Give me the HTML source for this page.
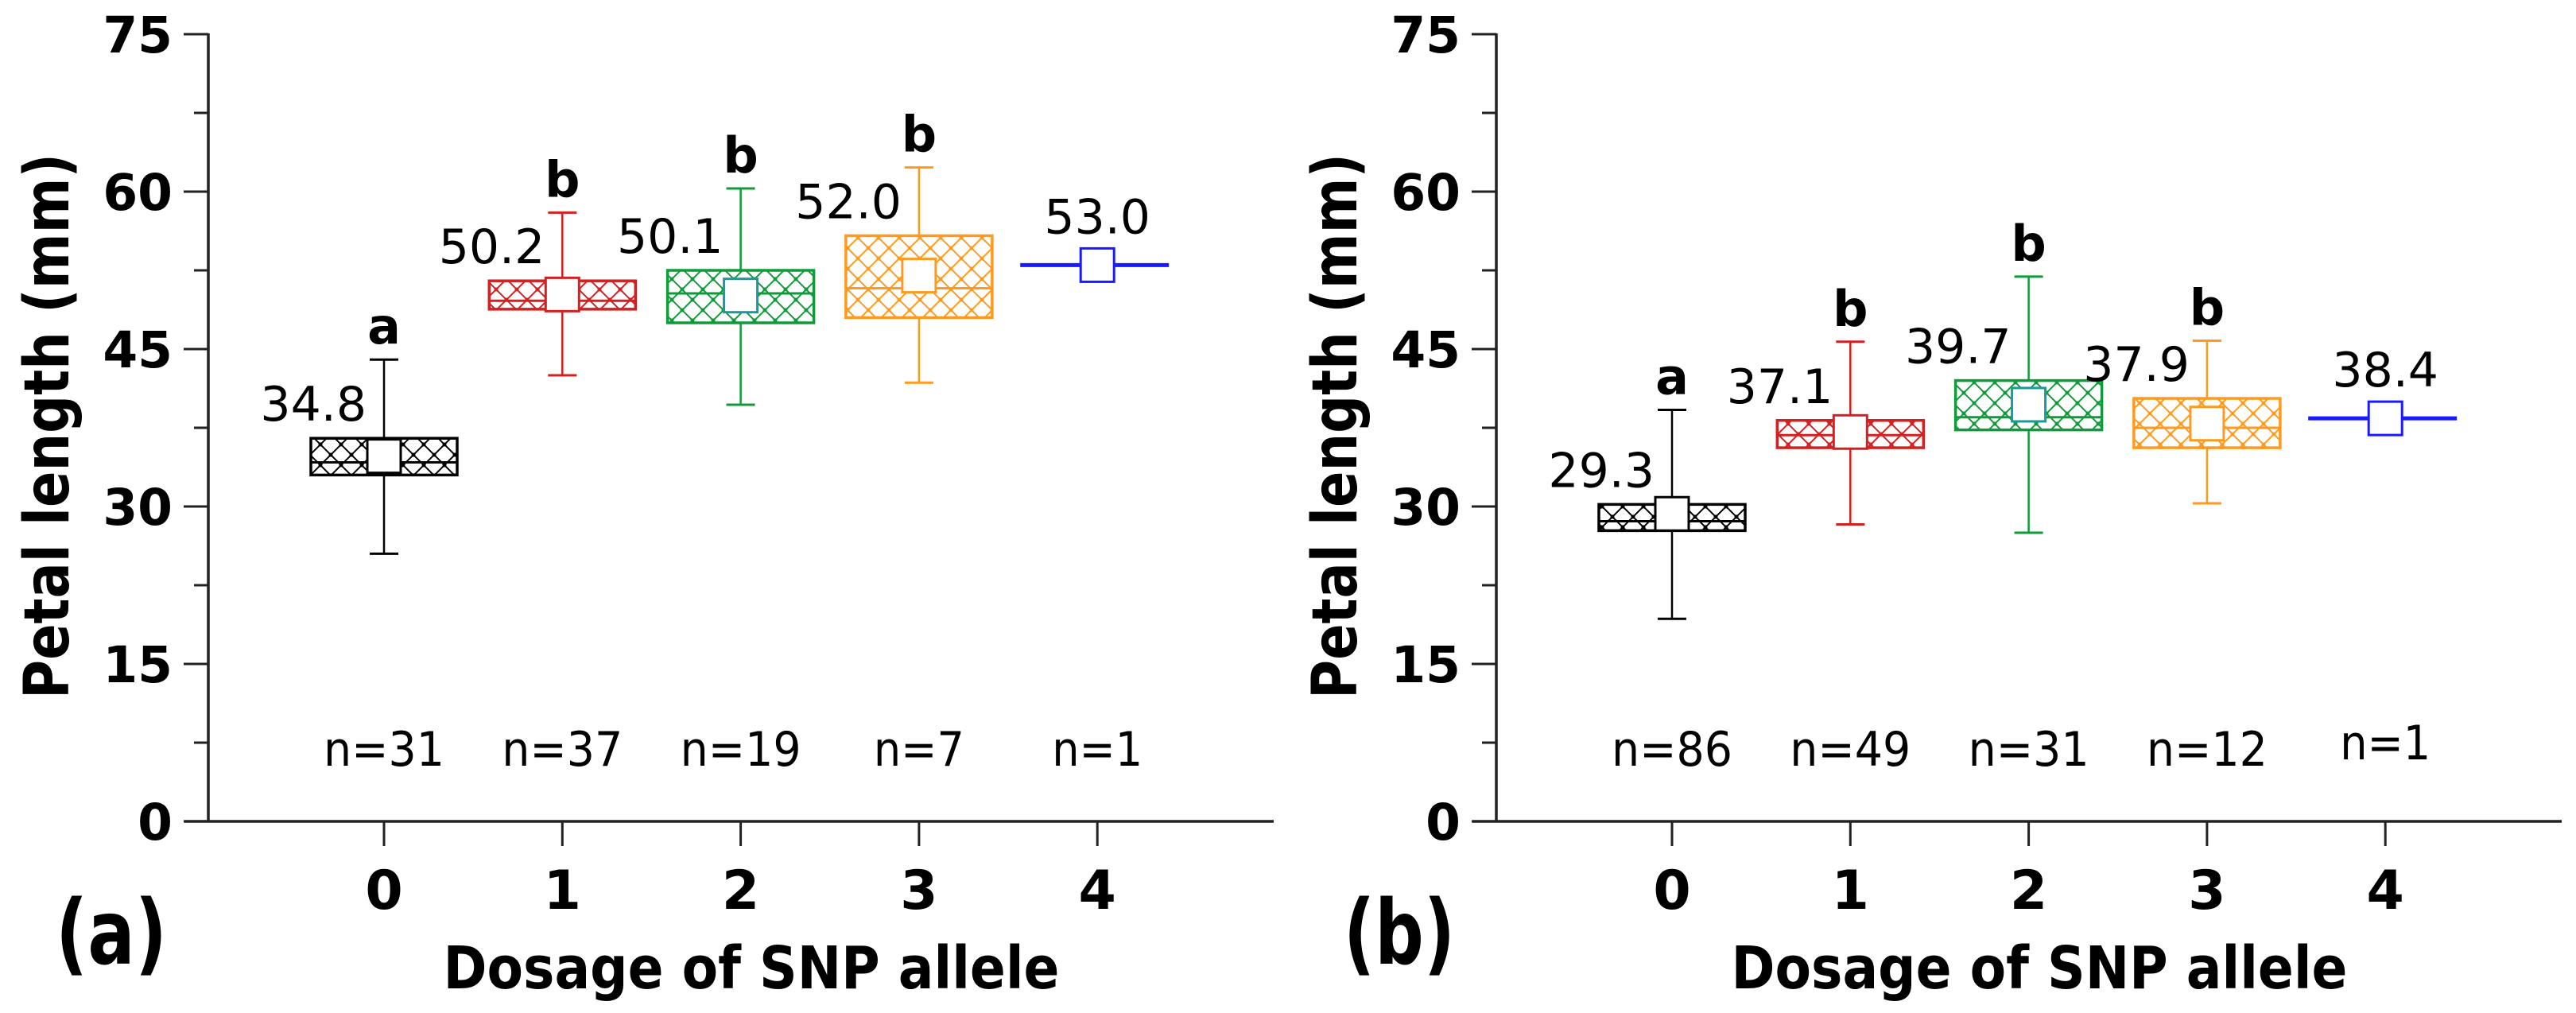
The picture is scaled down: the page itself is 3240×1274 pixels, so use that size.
<!DOCTYPE html>
<html><head><meta charset="utf-8"><style>
html,body{margin:0;padding:0;background:#fff;}
svg{display:block;}
text{font-family:"DejaVu Sans","Liberation Sans",sans-serif;}
</style></head><body>
<svg id="fig" width="3240" height="1274" viewBox="0 0 3240 1274" xmlns="http://www.w3.org/2000/svg">
<defs id="defs"></defs>
</svg>
<script>
// ---- data ----
const categories = ["0","1","2","3","4"];
const yTicks = [0,15,30,45,60,75];
const colors = ["#000000","#d42020","#119a3a","#ff9a1e","#1a1aff"];
const panelLabels = ["(a)","(b)"];
// panel a
const aMean = [34.8,50.2,50.1,52.0,53.0];
const aWhiskHi = [44,58,60.3,62.3,null];
const aWhiskLo = [25.5,42.5,39.7,41.8,null];
const aQ3 = [36.5,51.5,52.5,55.8,null];
const aQ1 = [33,48.8,47.5,48,null];
const aMed = [34.2,49.6,50.3,50.8,null];
const aLetters = ["a","b","b","b",""];
const aN = ["n=31","n=37","n=19","n=7","n=1"];
// panel b
const bMean = [29.3,37.1,39.7,37.9,38.4];
const bWhiskHi = [39.2,45.7,51.9,45.8,null];
const bWhiskLo = [19.3,28.3,27.5,30.3,null];
const bQ3 = [30.2,38.2,42,40.3,null];
const bQ1 = [27.7,35.6,37.3,35.6,null];
const bMed = [28.6,36.8,38.5,37.5,null];
const bLetters = ["a","b","b","b",""];
const bN = ["n=86","n=49","n=31","n=12","n=1"];

const NS="http://www.w3.org/2000/svg";
const svg=document.getElementById('fig');
const defs=document.getElementById('defs');
function mk(tag,attrs,parent,txt){const e=document.createElementNS(NS,tag);for(const k in attrs)e.setAttribute(k,attrs[k]);if(txt!==undefined)e.textContent=txt;(parent||svg).appendChild(e);return e;}

// hatch patterns
colors.forEach((c,i)=>{
  const p=mk('pattern',{id:'h'+i,patternUnits:'userSpaceOnUse',width:26,height:26},defs);
  mk('path',{d:'M0,0L26,26M26,0L0,26',stroke:c,'stroke-width':2,fill:'none'},p);
  mk('circle',{cx:13,cy:13,r:2.5,fill:c},p);
  mk('circle',{cx:0,cy:0,r:2.5,fill:c},p);mk('circle',{cx:26,cy:0,r:2.5,fill:c},p);
  mk('circle',{cx:0,cy:26,r:2.5,fill:c},p);mk('circle',{cx:26,cy:26,r:2.5,fill:c},p);
});

const Y0=1033, PX=13.2;
function yS(v){return Y0-v*PX;}
function xS(off,i){return off+483+i*224.3;}

function panel(pi,off,mean,hi,lo,q3,q1,med,letters,ns){
  const g=mk('g',{});
  
  
  const ax=off+262;
  // axes
  const yl=mk('line',{x1:ax,y1:yS(75)-1,x2:ax,y2:Y0+1,stroke:'#222','stroke-width':3.5},g);
  
  const xl=mk('line',{x1:ax-30,y1:Y0,x2:off+1602,y2:Y0,stroke:'#222','stroke-width':3.5},g);
  
  for(let v=0;v<=75;v+=7.5){
    const major=(v%15===0);
    mk('line',{x1:ax-(major?31:18),y1:yS(v),x2:ax,y2:yS(v),stroke:'#222','stroke-width':3},g);
  }
  yTicks.forEach(t=>{
    const tx=mk('text',{x:off+217,y:yS(t)+23,'text-anchor':'end','font-size':63,'font-weight':'bold'},g,String(t));
    
  });
  categories.forEach((c,i)=>{
    const x=xS(off,i);
    mk('line',{x1:x,y1:Y0,x2:x,y2:Y0+31,stroke:'#222','stroke-width':3},g);
    const tx=mk('text',{x:x,y:1143,'text-anchor':'middle','font-size':68,'font-weight':'bold'},g,c);
    
  });
  const yt=mk('text',{transform:`translate(${off+86},536) rotate(-90)`,'text-anchor':'middle','font-size':78,'font-weight':'bold',textLength:686,lengthAdjust:'spacingAndGlyphs'},g,'Petal length (mm)');
  
  const xt=mk('text',{x:off+945,y:1243,'text-anchor':'middle','font-size':74,'font-weight':'bold',textLength:775,lengthAdjust:'spacingAndGlyphs'},g,'Dosage of SNP allele');
  
  const pl=mk('text',{x:off+70,y:1212,'font-size':112,'font-weight':'bold',textLength:140,lengthAdjust:'spacingAndGlyphs'},g,panelLabels[pi]);
  

  categories.forEach((c,i)=>{
    const x=xS(off,i), col=colors[i];
    const bg=mk('g',{},g);
    
    
    if(hi[i]!==null){
      mk('line',{x1:x,y1:yS(hi[i]),x2:x,y2:yS(lo[i]),stroke:col,'stroke-width':2.5},bg);
      mk('line',{x1:x-18,y1:yS(hi[i]),x2:x+18,y2:yS(hi[i]),stroke:col,'stroke-width':3},bg);
      mk('line',{x1:x-18,y1:yS(lo[i]),x2:x+18,y2:yS(lo[i]),stroke:col,'stroke-width':3},bg);
      mk('rect',{x:x-92,y:yS(q3[i]),width:184,height:yS(q1[i])-yS(q3[i]),fill:'#fff',stroke:'none'},bg);
      mk('rect',{x:x-92,y:yS(q3[i]),width:184,height:yS(q1[i])-yS(q3[i]),fill:`url(#h${i})`,stroke:col,'stroke-width':3.5},bg);
      mk('line',{x1:x-92,y1:yS(med[i]),x2:x+92,y2:yS(med[i]),stroke:col,'stroke-width':3},bg);
      const lt=mk('text',{x:x,y:yS(hi[i])-20,'text-anchor':'middle','font-size':62,'font-weight':'bold'},bg,letters[i]);
      
      const ml=mk('text',{x:x-22,y:yS(q3[i])-22,'text-anchor':'end','font-size':60},bg,mean[i].toFixed(1));
      
    } else {
      mk('line',{x1:x-97,y1:yS(mean[i]),x2:x+90,y2:yS(mean[i]),stroke:col,'stroke-width':5},bg);
      const ml=mk('text',{x:x,y:yS(mean[i])-40,'text-anchor':'middle','font-size':60},bg,mean[i].toFixed(1));
      
    }
    const sc=(i===2)?'#1a9a9a':col;
    const m=mk('rect',{x:x-21,y:yS(mean[i])-21,width:42,height:42,fill:'#fff',stroke:sc,'stroke-width':3},bg);
    
    const nt=mk('text',{x:x,y:(i===4&&pi===1)?955:963,'text-anchor':'middle','font-size':60,textLength:ns[i].length*38,lengthAdjust:'spacingAndGlyphs'},g,ns[i]);
    
  });
}
panel(0,0,aMean,aWhiskHi,aWhiskLo,aQ3,aQ1,aMed,aLetters,aN);
panel(1,1620,bMean,bWhiskHi,bWhiskLo,bQ3,bQ1,bMed,bLetters,bN);
</script>
</body></html>
